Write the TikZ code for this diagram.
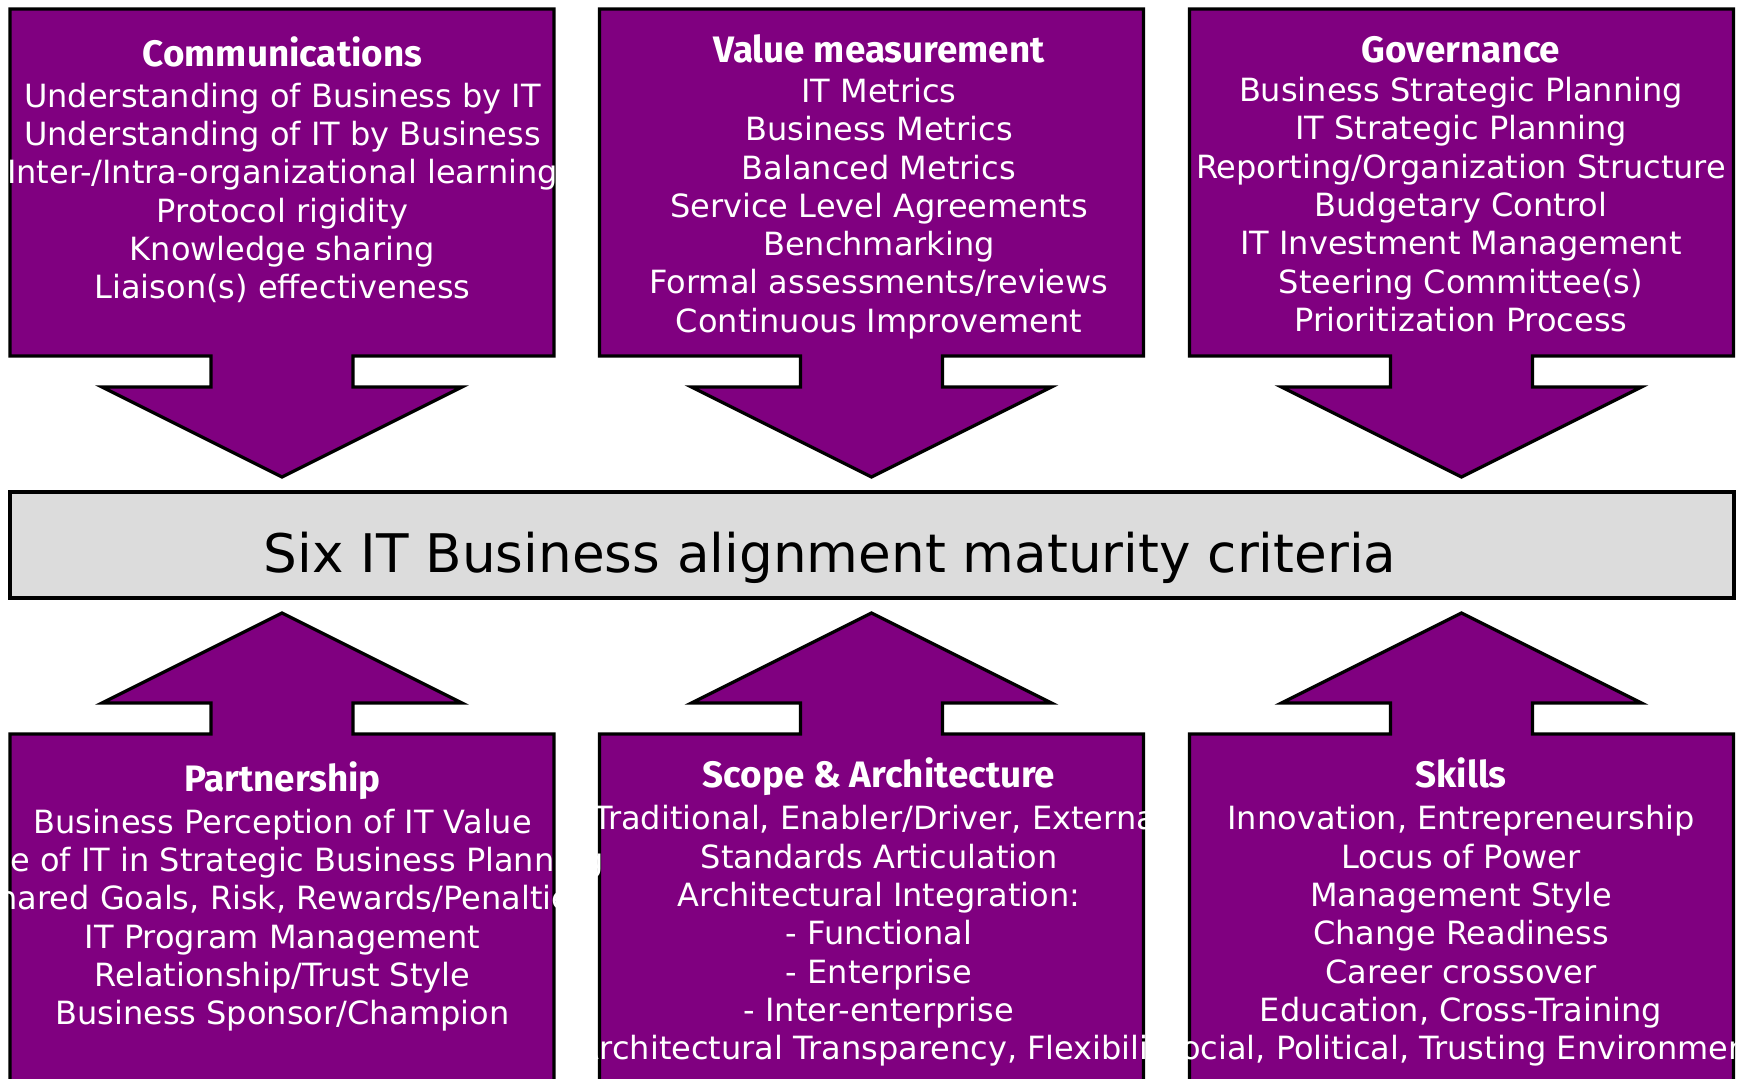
\documentclass[tikz,border=0pt]{standalone}
\usepackage{fontspec}
\setmainfont{DejaVu Sans}
\newfontfamily\headfont{Fira Sans}
\usetikzlibrary{backgrounds}

\definecolor{itpurple}{HTML}{800080}
\definecolor{bargray}{HTML}{DCDCDC}

% pillar with arrow pointing down to the bar, #1 = centre x
\newcommand{\downpillar}[1]{%
  \draw[pillar] ({#1-272},9) -- ({#1+272},9) -- ({#1+272},356) -- ({#1+71},356) -- ({#1+71},387) -- ({#1+180},387) -- (#1,477)
    -- ({#1-180},387) -- ({#1-71},387) -- ({#1-71},356) -- ({#1-272},356) -- cycle;}
% pillar with arrow pointing up to the bar, #1 = centre x
\newcommand{\uppillar}[1]{%
  \draw[pillar] ({#1-272},1100) -- ({#1-272},734) -- ({#1-71},734) -- ({#1-71},703) -- ({#1-180},703) -- (#1,613)
    -- ({#1+180},703) -- ({#1+71},703) -- ({#1+71},734) -- ({#1+272},734) -- ({#1+272},1100) -- cycle;}

\begin{document}
\begin{tikzpicture} [
    x=0.5pt, y=-0.5pt,
    pillar/.style={fill=itpurple, draw=black, line width=1.6pt, line join=miter},
    bar/.style={fill=bargray, draw=black, line width=1.6pt},
    head/.style={font=\headfont\bfseries\fontsize{18.4}{22}\selectfont, text=white, text height=12.7pt, text depth=0pt, inner sep=0pt},
    items/.style={font=\fontsize{16}{19.15}\selectfont, text=white, align=center, inner sep=0pt},
    criteria/.style={font=\fontsize{26.6}{32}\selectfont, text=black, text height=19.4pt, text depth=0pt, inner sep=0pt}
]
\useasboundingbox (0,0) rectangle (1744,1078);

% Layer 1: texts
\node[criteria] (crit) at (830,553) {Six IT Business alignment maturity criteria};

\node[head] (comm-head) at (282.5,53.4) {Communications};
\node[items] (comm) at (282.5,193) {Understanding of Business by IT\\Understanding of IT by Business\\Inter-/Intra-organizational learning\\Protocol rigidity\\Knowledge sharing\\Liaison(s) effectiveness};

\node[head] (value-head) at (879,50) {Value measurement};
\node[items] (value) at (879,208.5) {IT Metrics\\Business Metrics\\Balanced Metrics\\Service Level Agreements\\Benchmarking\\Formal assessments/reviews\\Continuous Improvement};

\node[head] (gov-head) at (1461,50) {Governance};
\node[items] (gov) at (1461,204.5) {Business Strategic Planning\\IT Strategic Planning\\Reporting/Organization Structure\\Budgetary Control\\IT Investment Management\\Steering Committee(s)\\Prioritization Process};

\node[head] (part-head) at (282.5,778.5) {Partnership};
\node[items] (part) at (282.5,920) {Business Perception of IT Value\\Role of IT in Strategic Business Planning\\Shared Goals, Risk, Rewards/Penalties\\IT Program Management\\Relationship/Trust Style\\Business Sponsor/Champion};

\node[head] (scope-head) at (879,775.2) {Scope \& Architecture};
\node[items] (scope) at (879,936) {Traditional, Enabler/Driver, External\\Standards Articulation\\Architectural Integration:\\- Functional\\- Enterprise\\- Inter-enterprise\\Architectural Transparency, Flexibility};

\node[head] (skills-head) at (1461,775.2) {Skills};
\node[items] (skills) at (1461,936) {Innovation, Entrepreneurship\\Locus of Power\\Management Style\\Change Readiness\\Career crossover\\Education, Cross-Training\\Social, Political, Trusting Environment};

% Layer 2: pillars and bar behind the texts
\begin{scope}[on background layer]
    \draw[bar] (10,492) rectangle (1734,598);
    % top row
    \downpillar{282}
    \downpillar{871.5}
    \downpillar{1461.5}
    % bottom row
    \uppillar{282}
    \uppillar{871.5}
    \uppillar{1461.5}
\end{scope}

\end{tikzpicture}
\end{document}
